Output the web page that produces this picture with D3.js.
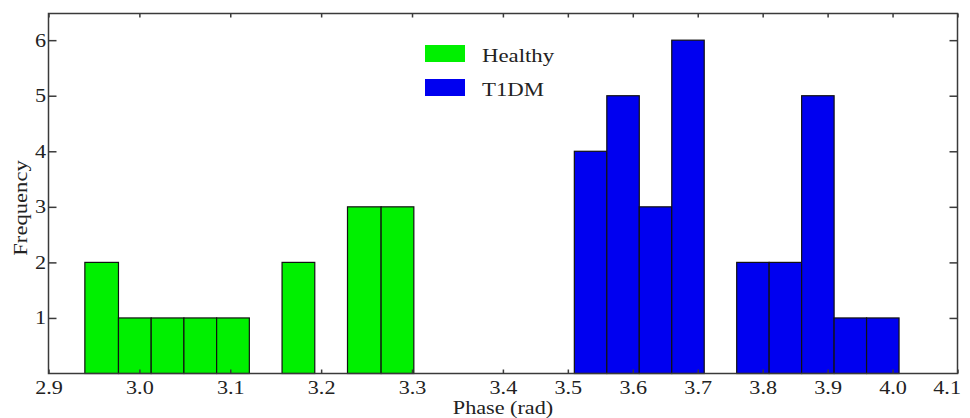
<!DOCTYPE html>
<html>
<head>
<meta charset="utf-8">
<script src="https://cdn.jsdelivr.net/npm/d3@7"></script>
<style>
  body { margin: 0; background: #fff; }
  svg { display: block; font-family: "Liberation Serif", "Times New Roman", serif; }
</style>
</head>
<body>
<svg id="chart" width="970" height="418"></svg>
<script>
// histogram bin edges (rad) and counts
const healthyEdges = [2.940, 2.977, 3.013, 3.049, 3.085, 3.121, 3.157, 3.193, 3.229, 3.266, 3.302];
const healthyCounts = [2, 1, 1, 1, 1, 0, 2, 0, 3, 3];
const t1dmEdges = [3.51, 3.56, 3.61, 3.66, 3.71, 3.76, 3.81, 3.86, 3.91, 3.96, 4.01];
const t1dmCounts = [4, 5, 3, 6, 0, 2, 2, 5, 1, 1];

const xTicks = [2.9, 3.0, 3.1, 3.2, 3.3, 3.4, 3.5, 3.6, 3.7, 3.8, 3.9, 4.0, 4.1];
const yTicks = [1, 2, 3, 4, 5, 6];
const seriesNames = ["Healthy", "T1DM"];
const seriesColors = ["#00f000", "#0000f0"];

const svg = d3.select("#chart");
const margin = { top: 13.5, right: 12.5, bottom: 44.5, left: 48.5 };
const width = 970 - margin.left - margin.right;
const height = 418 - margin.top - margin.bottom;

// the source figure's x axis is not uniform: 2.9-3.4 is wider than 3.4-4.1
const x = d3.scaleLinear()
  .domain([2.9, 3.4, 4.1])
  .range([0, 454.4, width]);

const y = d3.scaleLinear()
  .domain([0, 6.48])
  .range([height, 0]);

const g = svg.append("g")
  .attr("transform", `translate(${margin.left},${margin.top})`);

// turn counts + edges into bar records, skipping empty bins
const toBins = (edges, counts, key) =>
  counts.map((c, i) => ({ x0: edges[i], x1: edges[i + 1], count: c, key }))
    .filter((d) => d.count > 0);

const bins = toBins(healthyEdges, healthyCounts, 0)
  .concat(toBins(t1dmEdges, t1dmCounts, 1));

g.selectAll(".bar")
  .data(bins)
  .enter()
  .append("rect")
  .attr("class", "bar")
  .attr("x", (d) => x(d.x0))
  .attr("y", (d) => y(d.count))
  .attr("width", (d) => x(d.x1) - x(d.x0))
  .attr("height", (d) => y(0) - y(d.count))
  .attr("fill", (d) => seriesColors[d.key])
  .attr("stroke", "#111")
  .attr("stroke-width", 1.2);

// text in the figure is stretched sideways
const stretch = "scale(1.2,1)";
const axisColor = "#3a3a3a";

const styleAxis = (sel) => {
  sel.select(".domain").remove();
  sel.selectAll(".tick line").attr("stroke", axisColor).attr("stroke-width", 1.5);
};

// bottom axis with labels
const axisB = g.append("g")
  .attr("transform", `translate(0,${height})`)
  .call(d3.axisBottom(x).tickValues(xTicks).tickFormat(d3.format(".1f"))
    .tickSizeInner(-4).tickSizeOuter(0).tickPadding(7));
styleAxis(axisB);
axisB.selectAll("text")
  .attr("font-size", 18.5)
  .attr("font-family", "Liberation Serif")
  .attr("fill", "#222")
  .attr("transform", stretch);
// last label sits against the right edge, as in the source
axisB.selectAll("text")
  .filter((d) => d === xTicks[xTicks.length - 1])
  .attr("text-anchor", "end")
  .attr("x", 2.5);

// top axis, ticks only
const axisT = g.append("g")
  .call(d3.axisTop(x).tickValues(xTicks).tickFormat("")
    .tickSizeInner(-4).tickSizeOuter(0));
styleAxis(axisT);

// left axis with labels
const axisL = g.append("g")
  .call(d3.axisLeft(y).tickValues(yTicks).tickFormat(d3.format("d"))
    .tickSizeInner(-8).tickSizeOuter(0).tickPadding(2));
styleAxis(axisL);
axisL.selectAll("text")
  .attr("font-size", 18.5)
  .attr("font-family", "Liberation Serif")
  .attr("fill", "#222")
  .attr("transform", stretch);

// right axis, ticks only
const axisR = g.append("g")
  .attr("transform", `translate(${width},0)`)
  .call(d3.axisRight(y).tickValues(yTicks).tickFormat("")
    .tickSizeInner(-8).tickSizeOuter(0));
styleAxis(axisR);

// frame
g.append("rect")
  .attr("width", width)
  .attr("height", height)
  .attr("fill", "none")
  .attr("stroke", axisColor)
  .attr("stroke-width", 1.5);

// axis titles
svg.append("text")
  .attr("transform", `translate(${margin.left + width / 2},414) ${stretch}`)
  .attr("text-anchor", "middle")
  .attr("font-size", 18.5)
  .attr("fill", "#222")
  .text("Phase (rad)");

svg.append("text")
  .attr("transform", "translate(27,208) rotate(-90) scale(1.16,1)")
  .attr("text-anchor", "middle")
  .attr("font-size", 19.5)
  .attr("fill", "#222")
  .text("Frequency");

// legend
const legend = svg.append("g")
  .attr("transform", "translate(425,45)");

const items = legend.selectAll(".item")
  .data(seriesNames)
  .enter()
  .append("g")
  .attr("class", "item")
  .attr("transform", (d, i) => `translate(0,${i * 34})`);

items.append("rect")
  .attr("width", 40)
  .attr("height", 17)
  .attr("fill", (d, i) => seriesColors[i]);

items.append("text")
  .attr("transform", `translate(57,16.5) ${stretch}`)
  .attr("font-size", 19)
  .attr("fill", "#222")
  .text((d) => d);
</script>
</body>
</html>
